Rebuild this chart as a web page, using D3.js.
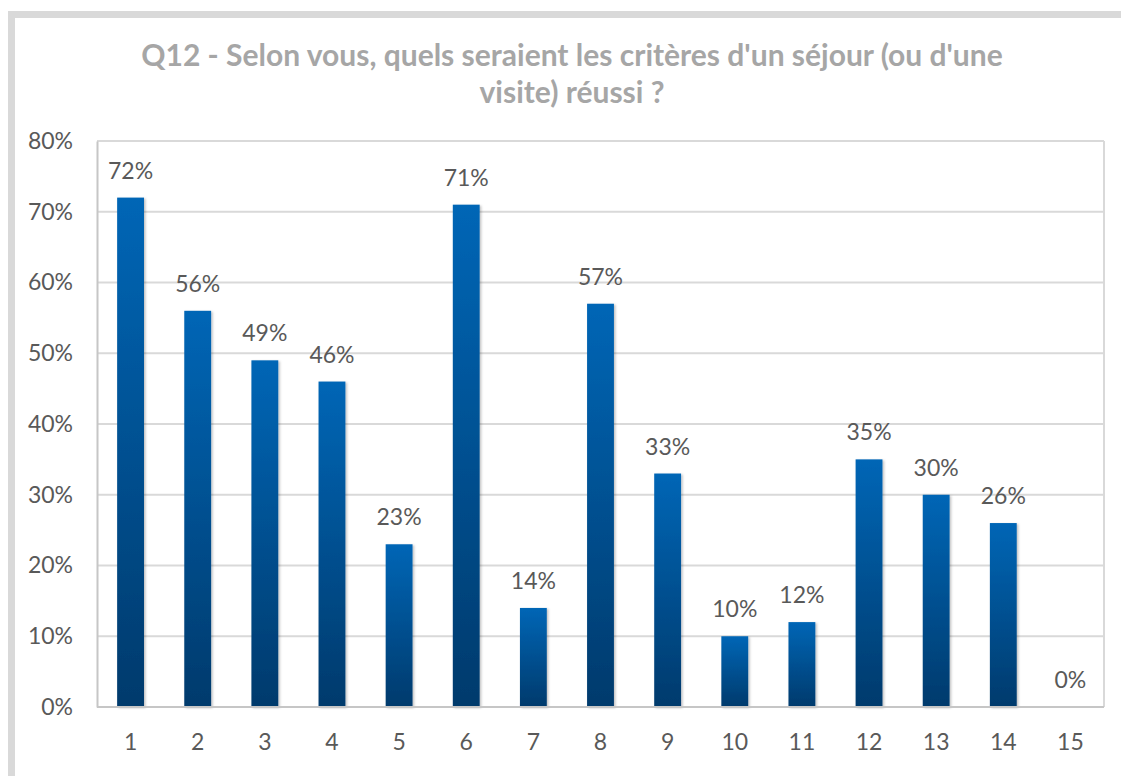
<!DOCTYPE html>
<html>
<head>
<meta charset="utf-8">
<script src="https://cdn.jsdelivr.net/npm/d3@7"></script>
<style>
  html, body { margin: 0; padding: 0; background: #fff; }
  svg { display: block; font-family: Lato, "Open Sans", sans-serif; }
</style>
</head>
<body>
<div id="chart"></div>
<script>
// Données du graphique
const titleLines = ["Q12 - Selon vous, quels seraient les critères d'un séjour (ou d'une", "visite) réussi ?"];
const categories = ["1", "2", "3", "4", "5", "6", "7", "8", "9", "10", "11", "12", "13", "14", "15"];
const values = [72, 56, 49, 46, 23, 71, 14, 57, 33, 10, 12, 35, 30, 26, 0];
const yTicks = [0, 10, 20, 30, 40, 50, 60, 70, 80];

const W = 1121, H = 776;
const plot = { left: 97, top: 141, right: 1104, bottom: 707 };

const svg = d3.select("#chart")
    .append("svg")
    .attr("width", W)
    .attr("height", H);

// dégradé des barres + ombre
const defs = svg.append("defs");
const grad = defs.append("linearGradient")
    .attr("id", "barGrad")
    .attr("x1", 0).attr("y1", 0).attr("x2", 0).attr("y2", 1);
grad.append("stop").attr("offset", "0%").attr("stop-color", "#0066b6");
grad.append("stop").attr("offset", "100%").attr("stop-color", "#003a6c");

const shadow = defs.append("filter").attr("id", "shadow")
    .attr("x", "-20%").attr("y", "-5%").attr("width", "150%").attr("height", "115%");
shadow.append("feDropShadow")
    .attr("dx", 1.5).attr("dy", 1)
    .attr("stdDeviation", 1.2)
    .attr("flood-color", "#000")
    .attr("flood-opacity", 0.25);

// cadre gris
svg.append("path")
    .attr("d", `M11.5,${H} V14.5 H${W}`)
    .attr("fill", "none")
    .attr("stroke", "#d9d9d9")
    .attr("stroke-width", 7);

// titre
svg.append("text")
    .attr("x", 572)
    .attr("y", 66)
    .attr("text-anchor", "middle")
    .attr("fill", "#a6a6a6")
    .style("font-size", "30px")
    .style("font-weight", "bold")
    .selectAll("tspan")
    .data(titleLines)
    .enter()
    .append("tspan")
    .attr("x", 572)
    .attr("dy", (d, i) => i === 0 ? 0 : 37)
    .text(d => d);

// échelles
const x = d3.scaleBand()
    .domain(categories)
    .range([plot.left, plot.right])
    .paddingInner(0.6)
    .paddingOuter(0.3);

const y = d3.scaleLinear()
    .domain([0, 80])
    .range([plot.bottom, plot.top]);

// grille
svg.append("g")
    .selectAll("line")
    .data(yTicks.slice(1))
    .enter()
    .append("line")
    .attr("x1", plot.left)
    .attr("x2", plot.right)
    .attr("y1", d => y(d))
    .attr("y2", d => y(d))
    .attr("stroke", "#d9d9d9")
    .attr("stroke-width", 2);

// bord droit de la zone de tracé
svg.append("line")
    .attr("x1", plot.right).attr("x2", plot.right)
    .attr("y1", plot.top).attr("y2", plot.bottom)
    .attr("stroke", "#d9d9d9")
    .attr("stroke-width", 2);

// axe Y
const yAxis = svg.append("g")
    .attr("transform", `translate(${plot.left},0)`)
    .call(d3.axisLeft(y).tickValues(yTicks).tickFormat(d => d + "%").tickSize(0).tickPadding(24));
yAxis.select(".domain").attr("stroke", "#c6c6c6").attr("stroke-width", 2);
yAxis.selectAll("text")
    .attr("fill", "#595959")
    .style("font-size", "23px")
    .style("font-family", "Lato, sans-serif");

// barres
svg.append("g")
    .selectAll(".bar")
    .data(values)
    .enter()
    .append("rect")
    .attr("class", "bar")
    .attr("x", (d, i) => x(categories[i]))
    .attr("y", d => y(d))
    .attr("width", x.bandwidth())
    .attr("height", d => plot.bottom - y(d))
    .attr("fill", "url(#barGrad)")
    .attr("filter", "url(#shadow)");

// axe X
const xAxis = svg.append("g")
    .attr("transform", `translate(0,${plot.bottom})`)
    .call(d3.axisBottom(x).tickSize(0).tickPadding(27));
xAxis.select(".domain")
    .attr("d", `M${plot.left},0H${plot.right}`)
    .attr("stroke", "#c6c6c6")
    .attr("stroke-width", 2);
xAxis.selectAll("text")
    .attr("fill", "#595959")
    .style("font-size", "23px")
    .style("font-family", "Lato, sans-serif");

// étiquettes de valeur
svg.append("g")
    .selectAll("text")
    .data(values)
    .enter()
    .append("text")
    .attr("x", (d, i) => x(categories[i]) + x.bandwidth() / 2)
    .attr("y", d => y(d) - 19)
    .attr("text-anchor", "middle")
    .attr("fill", "#595959")
    .style("font-size", "23px")
    .text(d => d + "%");
</script>
</body>
</html>
